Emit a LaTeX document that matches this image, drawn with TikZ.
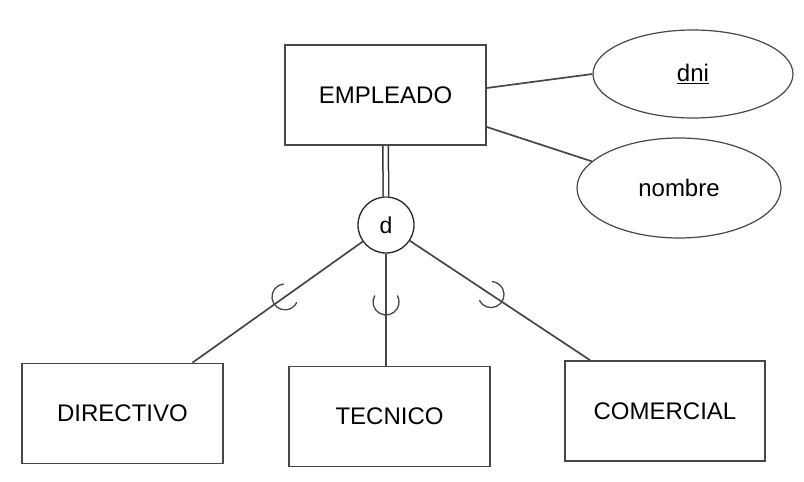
\documentclass[tikz,border=0pt]{standalone}
\usepackage{fontspec}
\setmainfont{Liberation Sans}
\usetikzlibrary{calc,shapes.geometric}
\begin{document}
\begin{tikzpicture}[x=1pt,y=1pt,
  ln/.style={line width=1.7pt,draw=black!72},
  ent/.style={rectangle,ln,minimum width=201pt,minimum height=100pt,inner sep=0pt,
    font=\fontsize{24}{28}\selectfont},
  attr/.style={ellipse,line width=1.2pt,draw=black!72,inner sep=0pt,
    font=\fontsize{24}{28}\selectfont},
  disj/.style={circle,line width=1.3pt,draw=black!85,minimum size=56pt,inner sep=0pt,
    font=\fontsize{23}{27}\selectfont},
  subarc/.style={line width=1.3pt,draw=black!72}]
\useasboundingbox (0,0) rectangle (804,482);
\node[ent] (emp) at (385.5,387) {EMPLEADO};
\node[attr,minimum width=200pt,minimum height=88pt] (dni) at (693,408) {\underline{dni}};
\node[attr,minimum width=204pt,minimum height=100pt] (nom) at (679,294) {nombre};
\node[disj] (d) at (386,257) {d};
\node[ent] (dir) at (122.5,68.5) {DIRECTIVO};
\node[ent] (tec) at (389.5,65.5) {TECNICO};
\node[ent,minimum width=200pt] (com) at (665,71) {COMERCIAL};
% attribute links
\draw[ln] ($(emp.east)+(0,7)$) -- (dni.west);
\draw[ln] ($(emp.east)+(0,-32)$) -- (nom.163);
% total participation
\draw[line width=1.5pt,draw=black!80,double=white,double distance=4pt] (emp.south) -- (d.north);
% subclass links
\coordinate (le) at ($(dir.north)+(70,0)$);
\coordinate (me) at (d.south |- tec.north);
\coordinate (re) at ($(com.north)+(-75,0)$);
\draw[ln] (d) -- (le);
\draw[ln] (d.south) -- (me);
\draw[ln] (d) -- (re);
% subset arcs
\coordinate (pl) at ($(d.center)!124pt!(le)$);
\coordinate (pm) at ($(d.center)!77pt!(me)$);
\coordinate (pr) at ($(d.center)!126pt!(re)$);
\draw[subarc] ([shift={(95.5:13)}]pl) arc[start angle=95.5,end angle=335.5,radius=13];
\draw[subarc] ([shift={(150:13)}]pm) arc[start angle=150,end angle=390,radius=13];
\draw[subarc] ([shift={(205.9:13)}]pr) arc[start angle=205.9,end angle=445.9,radius=13];
\end{tikzpicture}
\end{document}
